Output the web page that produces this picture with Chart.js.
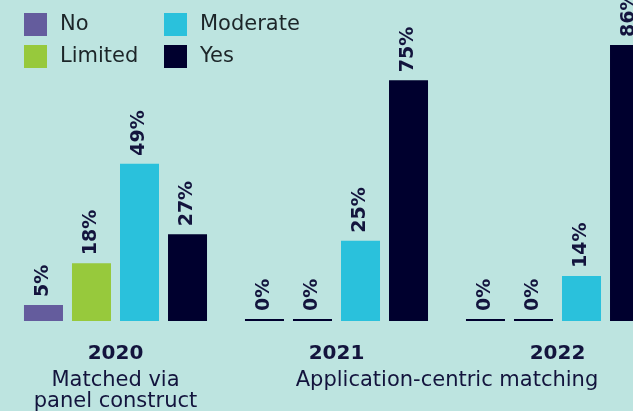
<!DOCTYPE html>
<html>
<head>
<meta charset="utf-8">
<script src="https://cdn.jsdelivr.net/npm/chart.js@4"></script>
<style>
    html, body { margin: 0; padding: 0; background: #bde4e0; overflow: hidden; }
    #wrap { position: absolute; left: 0; top: 0; width: 680px; height: 411px; }
</style>
</head>
<body>
<div id="wrap"><canvas id="chart"></canvas></div>
<script>
// data
const categories = ["2020", "2021", "2022"];
const seriesLabels = ["No", "Limited", "Moderate", "Yes"];
const noValues = [5, 0, 0];
const limitedValues = [18, 0, 0];
const moderateValues = [49, 25, 14];
const yesValues = [27, 75, 86];
const groupNames = [["Matched via", "panel construct"], ["Application-centric matching"]];
const groupFirst = [0, 1];
const groupLast = [0, 2];

const colors = ["#645c9d", "#97c93c", "#2ac1dc", "#00002e"];
const navy = "#00002e";
const textColor = "#13143d";
const font = "'DejaVu Sans', sans-serif";

const seriesValues = [noValues, limitedValues, moderateValues, yesValues];

// legend in two columns, drawn by hand
const legendPlugin = {
    id: "gridLegend",
    afterDraw(chart) {
        const ctx = chart.ctx;
        ctx.save();
        ctx.font = "21px " + font;
        ctx.textBaseline = "middle";
        ctx.textAlign = "left";
        chart.data.datasets.forEach((ds, i) => {
            const col = Math.floor(i / 2);
            const row = i % 2;
            const x = 24 + col * 140;
            const y = 13 + row * 32;
            ctx.fillStyle = colors[i];
            ctx.fillRect(x, y, 23, 23);
            ctx.fillStyle = "#1c2528";
            ctx.fillText(ds.label, x + 36, y + 12);
        });
        ctx.restore();
    }
};

// rotated value labels above bars
const valueLabels = {
    id: "valueLabels",
    afterDatasetsDraw(chart) {
        const ctx = chart.ctx;
        ctx.save();
        ctx.font = "bold 19px " + font;
        ctx.fillStyle = textColor;
        ctx.textAlign = "left";
        ctx.textBaseline = "middle";
        chart.data.datasets.forEach((ds, i) => {
            chart.getDatasetMeta(i).data.forEach((bar, j) => {
                ctx.save();
                ctx.translate(bar.x, bar.y - 8);
                ctx.rotate(-Math.PI / 2);
                ctx.fillText(ds.data[j] + "%", 0, 0);
                ctx.restore();
            });
        });
        ctx.restore();
    }
};

// group captions under the years
const groupCaptions = {
    id: "groupCaptions",
    afterDraw(chart) {
        const ctx = chart.ctx;
        const x = chart.scales.x;
        ctx.save();
        ctx.font = "21px " + font;
        ctx.fillStyle = textColor;
        ctx.textAlign = "center";
        ctx.textBaseline = "middle";
        groupNames.forEach((lines, g) => {
            const cx = (x.getPixelForValue(groupFirst[g]) + x.getPixelForValue(groupLast[g])) / 2;
            lines.forEach((line, k) => {
                ctx.fillText(line, cx, 381 + k * 21);
            });
        });
        ctx.restore();
    }
};

new Chart(document.getElementById("chart"), {
    type: "bar",
    data: {
        labels: categories,
        datasets: seriesLabels.map((label, i) => ({
            label: label,
            data: seriesValues[i],
            backgroundColor: c => (c.raw === 0 ? navy : colors[i]),
            minBarLength: 2,
            categoryPercentage: 0.869,
            barPercentage: 0.8125,
        }))
    },
    options: {
        responsive: true,
        maintainAspectRatio: false,
        animation: false,
        layout: { padding: { left: 5, right: 12, top: 0, bottom: 0 } },
        plugins: {
            legend: { display: false },
            tooltip: { enabled: false }
        },
        scales: {
            x: {
                grid: { display: false },
                border: { display: false },
                ticks: {
                    color: textColor,
                    font: { family: font, size: 20, weight: "bold" },
                    padding: 13
                },
                afterFit(scale) { scale.height = 90; }
            },
            y: {
                display: false,
                min: 0,
                max: 100
            }
        }
    },
    plugins: [legendPlugin, valueLabels, groupCaptions]
});
</script>
</body>
</html>
